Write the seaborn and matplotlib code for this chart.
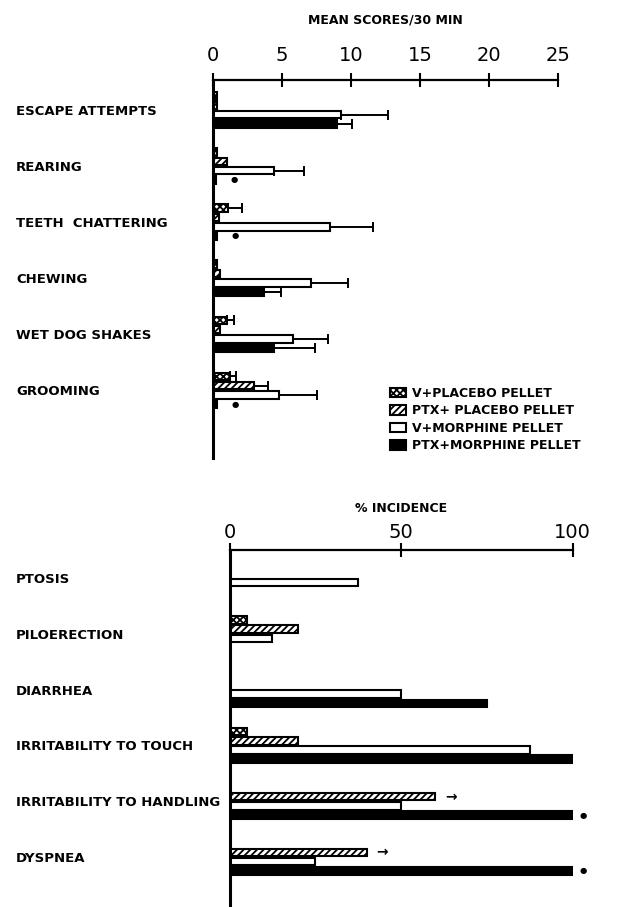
import matplotlib
matplotlib.use('Agg')
import matplotlib.pyplot as plt
import seaborn as sns
import pandas as pd

# groups (legend order, top bar to bottom bar in each cluster)
groups = ['V+PLACEBO PELLET', 'PTX+ PLACEBO PELLET', 'V+MORPHINE PELLET', 'PTX+MORPHINE PELLET']
group_colors = ['white', 'white', 'white', 'black']
group_hatches = ['xxxxx', '/////', '', '']

# top panel: mean scores / 30 min
signs = ['ESCAPE ATTEMPTS', 'REARING', 'TEETH  CHATTERING', 'CHEWING', 'WET DOG SHAKES', 'GROOMING']
v_placebo = [0.3, 0.3, 1.1, 0.3, 1.0, 1.2]
ptx_placebo = [0.3, 1.0, 0.4, 0.5, 0.5, 3.0]
v_morphine = [9.3, 4.4, 8.5, 7.1, 5.8, 4.8]
ptx_morphine = [9.0, 0.2, 0.3, 3.7, 4.4, 0.3]
v_placebo_se = [0, 0, 1.0, 0, 0.5, 0.5]
ptx_placebo_se = [0, 0, 0, 0, 0, 1.0]
v_morphine_se = [3.4, 2.2, 3.1, 2.7, 2.5, 2.7]
ptx_morphine_se = [1.1, 0, 0, 1.2, 3.0, 0]
top_stars = ['REARING', 'TEETH  CHATTERING', 'GROOMING']

# bottom panel: % incidence
symptoms = ['PTOSIS', 'PILOERECTION', 'DIARRHEA', 'IRRITABILITY TO TOUCH',
            'IRRITABILITY TO HANDLING', 'DYSPNEA']
v_placebo_pct = [0, 5, 0, 5, 0, 0]
ptx_placebo_pct = [0, 20, 0, 20, 60, 40]
v_morphine_pct = [37.5, 12.5, 50, 87.5, 50, 25]
ptx_morphine_pct = [0, 0, 75, 100, 100, 100]
bottom_stars = ['IRRITABILITY TO HANDLING', 'DYSPNEA']
bottom_arrows = ['IRRITABILITY TO HANDLING', 'DYSPNEA']


def long_table(cats, series):
    rows = []
    for g, vals in zip(groups, series):
        for c, v in zip(cats, vals):
            rows.append({'cat': c, 'group': g, 'value': v})
    return pd.DataFrame(rows)


def draw_bars(ax, cats, series):
    df = long_table(cats, series)
    sns.barplot(data=df, y='cat', x='value', hue='group', order=cats, hue_order=groups,
                orient='h', width=0.66, gap=0.18, errorbar=None, legend=False, saturation=1,
                palette=dict(zip(groups, group_colors)),
                edgecolor='black', linewidth=1.5, ax=ax)
    for cont, hatch in zip(ax.containers, group_hatches):
        for p in cont.patches:
            p.set_hatch(hatch)


def style_axis(ax, xmax, ticks, label, labelpad, tickpad, ypad):
    sns.despine(ax=ax, top=False, right=True, bottom=True, left=False)
    ax.spines['top'].set_linewidth(1.6)
    ax.spines['left'].set_linewidth(2.2)
    ax.spines['top'].set_color('black')
    ax.spines['left'].set_color('black')
    ax.xaxis.tick_top()
    ax.xaxis.set_label_position('top')
    ax.set_xlim(0, xmax)
    ax.set_xticks(ticks)
    ax.set_xticklabels([str(t) for t in ticks])
    ax.tick_params(axis='x', direction='inout', length=10, width=1.5, pad=tickpad,
                   labelsize=14, color='black', labelcolor='black')
    ax.set_xlabel(label, fontsize=9, fontweight='bold', labelpad=labelpad, color='black')
    ax.set_ylabel('')
    ax.tick_params(axis='y', length=0, pad=ypad, labelsize=9.5, labelcolor='black')
    for lbl in ax.get_yticklabels():
        lbl.set_ha('left')
        lbl.set_fontweight('bold')


def mark(ax, cont_idx, cats, which, text, dx, size):
    for c, p in zip(cats, ax.containers[cont_idx].patches):
        if c in which:
            ax.annotate(text, xy=(p.get_width(), p.get_y() + p.get_height() / 2),
                        xytext=(dx, 0), textcoords='offset points', color='black',
                        ha='center', va='center', fontsize=size, fontweight='bold')


sns.set_theme(style='white')
plt.rcParams['font.family'] = ['DejaVu Sans']
plt.rcParams['text.color'] = 'black'
plt.rcParams['hatch.linewidth'] = 1.3

fig = plt.figure(figsize=(6.24, 9.07), dpi=100)

# ---- top panel
ax1 = fig.add_axes([213 / 624, 1 - 458 / 907, 345 / 624, 378 / 907])
draw_bars(ax1, signs, [v_placebo, ptx_placebo, v_morphine, ptx_morphine])
for cont, errs in zip(ax1.containers, [v_placebo_se, ptx_placebo_se, v_morphine_se, ptx_morphine_se]):
    for p, e in zip(cont.patches, errs):
        if e > 0:
            ax1.errorbar(p.get_width(), p.get_y() + p.get_height() / 2, xerr=[[0], [e]],
                         fmt='none', ecolor='black', elinewidth=1.4, capsize=3.5, capthick=1.4)
mark(ax1, 3, signs, top_stars, '●', 13, 6)
ax1.set_ylim(6.21, -0.536)
style_axis(ax1, 25, [0, 5, 10, 15, 20, 25], 'MEAN SCORES/30 MIN', 16, 6, 141.8)

# ---- bottom panel
ax2 = fig.add_axes([229.5 / 624, 0, 343 / 624, 357 / 907])
draw_bars(ax2, symptoms, [v_placebo_pct, ptx_placebo_pct, v_morphine_pct, ptx_morphine_pct])
mark(ax2, 3, symptoms, bottom_stars, '●', 8, 6)
mark(ax2, 1, symptoms, bottom_arrows, '→', 11, 10)
ax2.set_ylim(5.896, -0.502)
style_axis(ax2, 100, [0, 50, 100], '% INCIDENCE', 8, 1, 153.7)

# legend
handles = [ax1.containers[i].patches[0] for i in range(4)]
fig.legend(handles, groups, loc='upper left', bbox_to_anchor=(390 / 624, 1 - 387 / 907),
           frameon=False, handlelength=1.3, handleheight=0.8, handletextpad=0.5,
           labelspacing=0.35, borderpad=0, borderaxespad=0,
           prop={'weight': 'bold', 'size': 9}, labelcolor='black')

fig.savefig('out.png', dpi=100)
